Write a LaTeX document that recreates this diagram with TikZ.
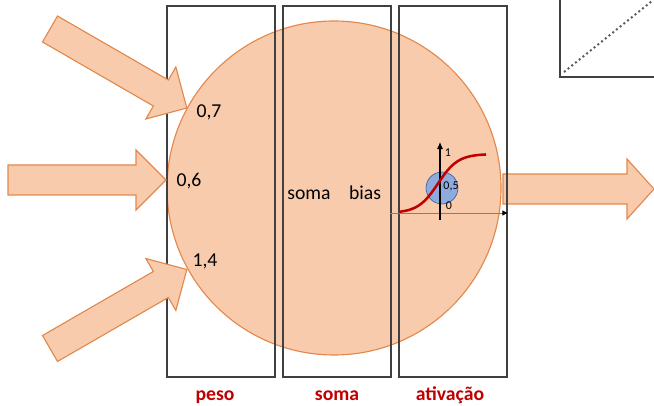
\documentclass[tikz,border=0pt]{standalone}
\usepackage{fontspec}
\setmainfont{Carlito}
\usetikzlibrary{arrows.meta}
\definecolor{pele}{HTML}{F8CBAD}
\definecolor{borda}{HTML}{E3884C}
\definecolor{moldura}{HTML}{404040}
\definecolor{rubro}{HTML}{C00000}
\definecolor{azul}{HTML}{8FAADC}
\definecolor{azulesc}{HTML}{2F5597}
\newcommand{\setagrossa}[4]{%
  \begin{scope}[shift={(#1)},rotate=#2]
    \draw[entrada] (0,-15) -- (#3-#4,-15) -- (#3-#4,-30) -- (#3,0) -- (#3-#4,30) -- (#3-#4,15) -- (0,15) -- cycle;
  \end{scope}}
\begin{document}
\begin{tikzpicture}[x=0.025cm,y=-0.025cm,
    entrada/.style={fill=pele,draw=borda,line width=0.8pt,line join=miter},
    caixa/.style={draw=moldura,line width=1.5pt},
    rotulo/.style={anchor=base,font=\fontsize{14pt}{16pt}\selectfont},
    etapa/.style={anchor=base,text=rubro,font=\fontsize{14pt}{16pt}\selectfont\bfseries},
    miudo/.style={anchor=base,inner sep=0pt,font=\fontsize{8.5pt}{10pt}\selectfont}]
  \useasboundingbox (0,0) rectangle (654,406);
  \fill[pele] (334,188) circle[radius=167];
  \draw[borda,line width=0.8pt] (334,188) circle[radius=167];
  \setagrossa{503,189}{0}{151}{27}
  \draw[caixa] (167,6) rectangle (275,377);
  \draw[caixa] (283,6) rectangle (391,377);
  \draw[caixa] (399,6) rectangle (507,377);
  \draw[caixa] (560,0) -- (560,77) -- (654,77);
  \draw[gray!70!black,dotted,line width=1.4pt] (564,72) -- (652,1);
  \setagrossa{50,29}{-30}{158}{30}
  \setagrossa{8,180}{0}{158}{30}
  \setagrossa{50,348.5}{30}{158}{30}
  \node[rotulo] (p1) at (209,118) {0,7};
  \node[rotulo] (p2) at (189,187) {0,6};
  \node[rotulo] (p3) at (205,267) {1,4};
  \node[rotulo] (soma) at (309,200) {soma};
  \node[rotulo] (bias) at (365,200) {bias};
  \fill[azul] (442,188) circle[radius=16];
  \draw[azulesc,line width=0.4pt] (442,188) circle[radius=16];
  \coordinate (xini) at (390,213);
  \coordinate (xfim) at (508,213);
  \coordinate (yini) at (440,220);
  \coordinate (yfim) at (440,142);
  \draw[gray,line width=0.6pt,-{Latex[black,length=4pt,width=4pt]}] (xini) -- (xfim);
  \draw[line width=0.9pt,-{Latex[length=5pt,width=4.5pt]}] (yini) -- (yfim);
  \draw[rubro,line width=1.8pt] plot[domain=399:486,samples=60,smooth] (\x,{213-59/(1+exp(-0.1*(\x-438)))});
  \node[miudo] (um) at (448,157) {1};
  \node[miudo] (meio) at (451,190) {0,5};
  \node[miudo] (zero) at (449,210) {0};
  \node[etapa] (peso) at (215,401) {peso};
  \node[etapa] (somat) at (337,401) {soma};
  \node[etapa] (ativ) at (450,401) {ativação};
\end{tikzpicture}
\end{document}
